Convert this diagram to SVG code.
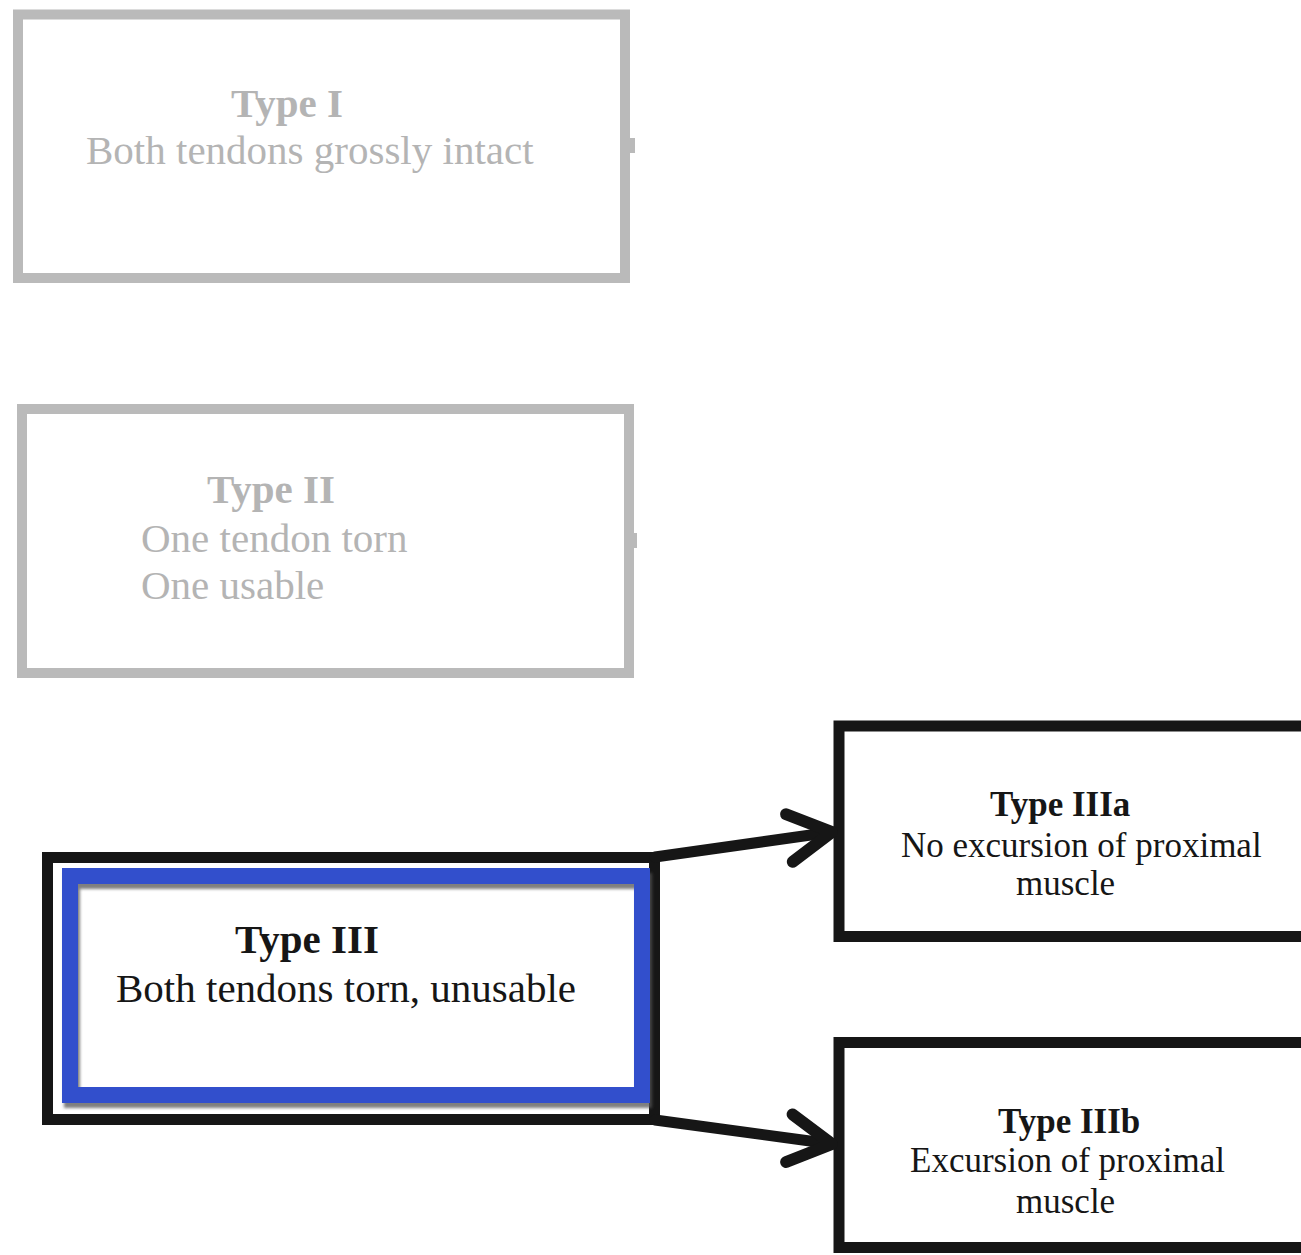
<svg xmlns="http://www.w3.org/2000/svg" width="1301" height="1255" viewBox="0 0 1301 1255">
  <style>
    .gbox { fill: #ffffff; stroke: #bababa; stroke-width: 10; }
    .kbox { fill: #ffffff; stroke: #161616; stroke-width: 11; }
    .bbox { fill: none; stroke: #3350cc; stroke-width: 16; }
    .gt { font-family: "Liberation Serif", "Times New Roman", serif; fill: #b4b4b4; font-size: 41px; }
    .kt { font-family: "Liberation Serif", "Times New Roman", serif; fill: #161616; font-size: 41px; }
    .st { font-family: "Liberation Serif", "Times New Roman", serif; fill: #161616; font-size: 35px; }
    .b { font-weight: bold; }
    .conn { fill: none; stroke: #161616; stroke-width: 11; stroke-linecap: round; }
  </style>
  <defs>
    <marker id="chev" markerUnits="userSpaceOnUse" viewBox="-60 -40 70 80" refX="0" refY="0" markerWidth="70" markerHeight="80" orient="auto" overflow="visible">
      <path d="M -43 -24 L 0 0 L -43 24" fill="none" stroke="#161616" stroke-width="12" stroke-linecap="round" stroke-linejoin="round"/>
    </marker>
    <filter id="shadow" x="-10%" y="-10%" width="120%" height="120%">
      <feDropShadow dx="2" dy="5" stdDeviation="1.5" flood-color="#555555" flood-opacity="0.75"/>
    </filter>
  </defs>
  <rect width="1301" height="1255" fill="#ffffff"/>

  <g id="type1">
    <rect x="630" y="138" width="5" height="15" fill="#bababa"/>
    <rect class="gbox" x="18" y="14.5" width="607" height="263.5"/>
    <text class="gt b" x="231" y="117">Type I</text>
    <text class="gt" x="86" y="164">Both tendons grossly intact</text>
  </g>

  <g id="type2">
    <rect x="632" y="533" width="5" height="15" fill="#bababa"/>
    <rect class="gbox" x="22" y="409" width="607" height="264"/>
    <text class="gt b" x="207" y="503">Type II</text>
    <text class="gt" x="141" y="552">One tendon torn</text>
    <text class="gt" x="141" y="599">One usable</text>
  </g>

  <g id="type3">
    <rect class="kbox" x="47.5" y="857.5" width="607" height="262"/>
    <rect class="bbox" x="70" y="876" width="572" height="219" filter="url(#shadow)"/>
    <text class="kt b" x="235" y="953">Type III</text>
    <text class="kt" x="116" y="1002">Both tendons torn, unusable</text>
  </g>

  <g id="type3a">
    <rect class="kbox" x="839" y="726" width="480" height="210.5"/>
    <text class="st b" x="990" y="816">Type IIIa</text>
    <text class="st" x="901" y="857">No excursion of proximal</text>
    <text class="st" x="1016" y="895">muscle</text>
  </g>

  <g id="type3b">
    <rect class="kbox" x="839" y="1042.5" width="480" height="205"/>
    <text class="st b" x="998" y="1133">Type IIIb</text>
    <text class="st" x="910" y="1172">Excursion of proximal</text>
    <text class="st" x="1016" y="1213">muscle</text>
  </g>

  <g id="connectors">
    <line class="conn" x1="655" y1="857" x2="832" y2="832" marker-end="url(#chev)"/>
    <line class="conn" x1="655" y1="1120" x2="832" y2="1144" marker-end="url(#chev)"/>
  </g>
</svg>
